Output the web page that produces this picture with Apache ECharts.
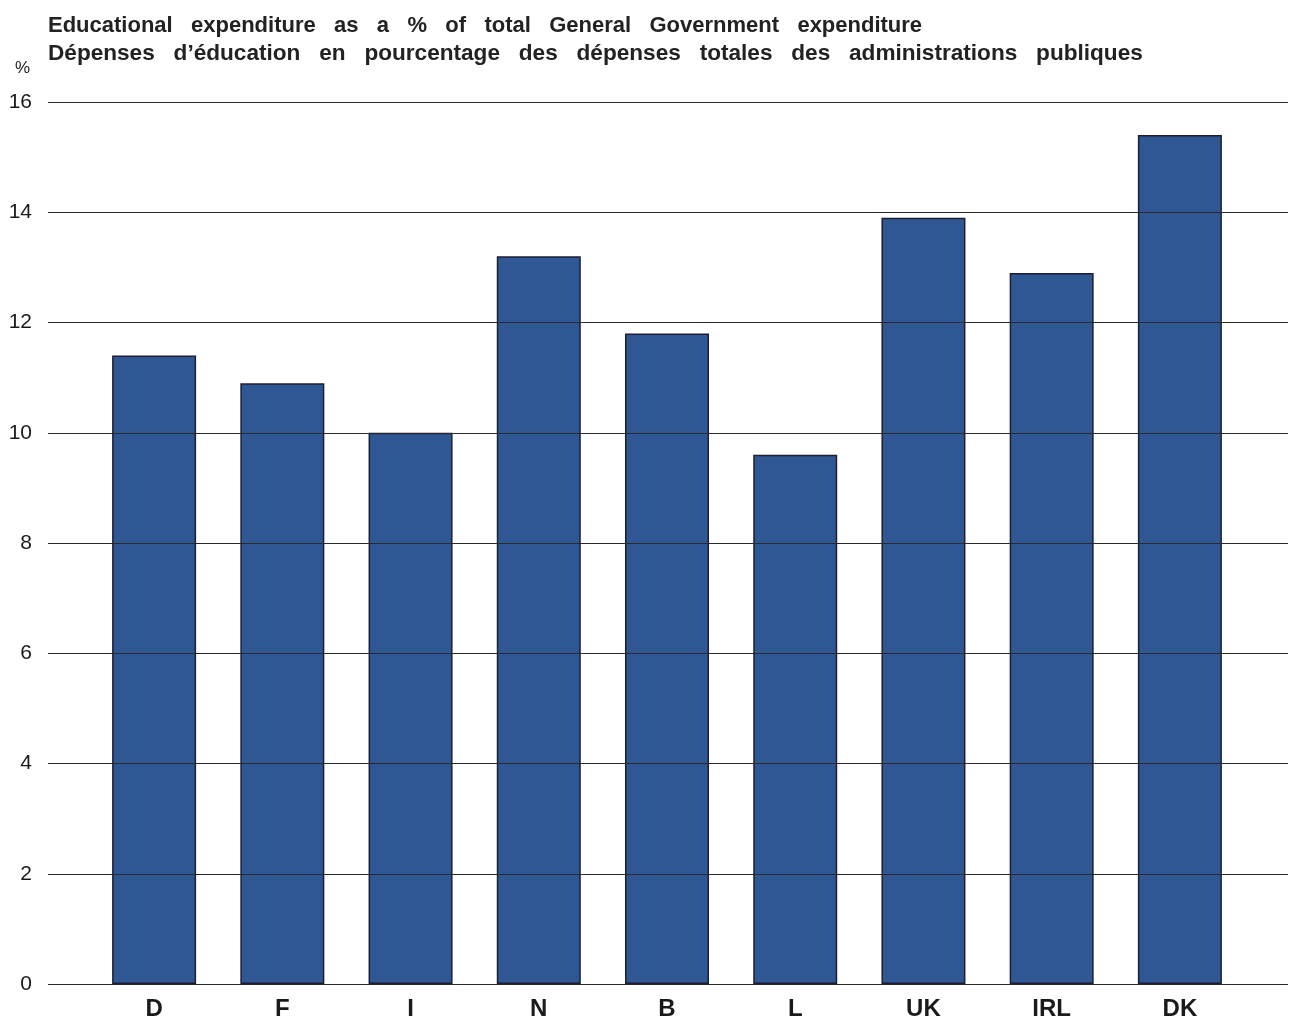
<!DOCTYPE html>
<html>
<head>
<meta charset="utf-8">
<script src="https://cdn.jsdelivr.net/npm/echarts@6/dist/echarts.min.js"></script>
<style>
html,body{margin:0;padding:0;background:#fff;}
#chart{width:1290px;height:1021px;}
</style>
</head>
<body>
<div id="chart"></div>
<script>
const titleLine1 = "Educational   expenditure   as   a   %   of   total   General   Government   expenditure";
const titleLine2 = "Dépenses   d’éducation   en   pourcentage   des   dépenses   totales   des   administrations   publiques";
const unitLabel = "%";
const categories = ["D", "F", "I", "N", "B", "L", "UK", "IRL", "DK"];
const values = [11.4, 10.9, 10.0, 13.2, 11.8, 9.6, 13.9, 12.9, 15.4];
const yMin = 0, yMax = 16, yStep = 2;

const chart = echarts.init(document.getElementById('chart'), null, {renderer: 'canvas'});
const font = "'Liberation Sans', Arial, Helvetica, sans-serif";
chart.setOption({
  backgroundColor: '#ffffff',
  animation: false,
  title: [
    {text: titleLine1, left: 43, top: 10, textStyle: {fontFamily: font, fontSize: 22, fontWeight: 'bold', color: '#222222'}},
    {text: titleLine2, left: 43, top: 37, textStyle: {fontFamily: font, fontSize: 22.6, fontWeight: 'bold', color: '#222222'}},
    {text: unitLabel, left: 10, top: 55, textStyle: {fontFamily: font, fontSize: 17, fontWeight: 'normal', color: '#222222'}}
  ],
  grid: [
    {left: 48, right: 2, top: 102, bottom: 37, containLabel: false},
    {left: 90, right: 46, top: 102, bottom: 37, containLabel: false}
  ],
  xAxis: [
    {type: 'category', gridIndex: 0, data: categories, show: false},
    {type: 'category', gridIndex: 1, data: categories,
     axisLine: {show: false}, axisTick: {show: false},
     axisLabel: {fontFamily: font, fontSize: 24, fontWeight: 'bold', color: '#1a1a1a', margin: 13}}
  ],
  yAxis: [
    {type: 'value', gridIndex: 0, min: yMin, max: yMax, interval: yStep, z: 10,
     axisLine: {show: false}, axisTick: {show: false},
     axisLabel: {fontFamily: font, fontSize: 21, color: '#1a1a1a', margin: 16},
     splitLine: {show: true, lineStyle: {color: '#2a2a2a', width: 1.2}}},
    {type: 'value', gridIndex: 1, min: yMin, max: yMax, interval: yStep, show: false,
     splitLine: {show: false}}
  ],
  series: [{
    type: 'bar', xAxisIndex: 1, yAxisIndex: 1,
    data: values, barWidth: 84,
    itemStyle: {color: '#2e5794', borderColor: '#1c1f33', borderWidth: 1.5}
  }]
});
</script>
</body>
</html>
